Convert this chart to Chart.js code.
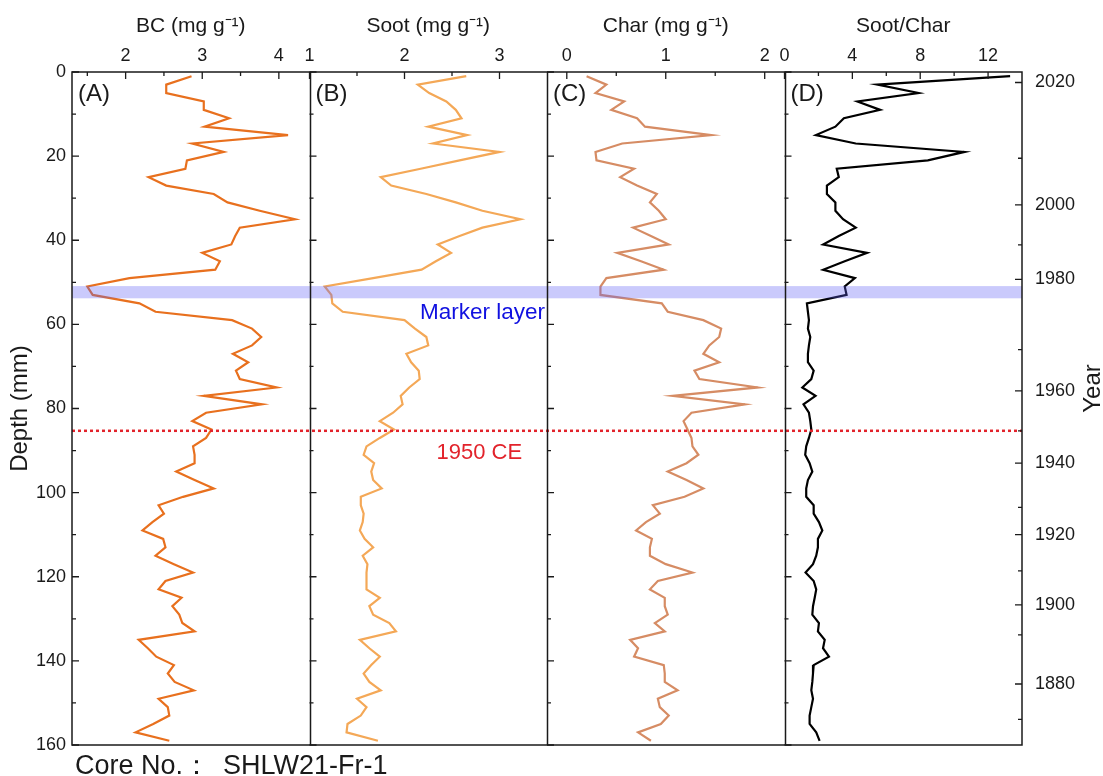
<!DOCTYPE html>
<html>
<head>
<meta charset="utf-8">
<script src="https://cdn.jsdelivr.net/npm/chart.js@4.4.1/dist/chart.umd.min.js"></script>
<style>
  html, body { margin: 0; padding: 0; background: #fff; }
  #wrap { width: 1103px; height: 776px; }
</style>
</head>
<body>
<div id="wrap"><canvas id="core-chart" width="1103" height="776"></canvas></div>
<script>
// sample mid-depths (mm)
const depth = [1, 3, 5, 7, 9, 11, 13, 15, 17, 19, 21, 23, 25, 27, 29, 31, 33, 35, 37, 39,
  41, 43, 45, 47, 49, 51, 53, 55, 57, 59, 61, 63, 65, 67, 69, 71, 73, 75, 77, 79,
  81, 83, 85, 87, 89, 91, 93, 95, 97, 99, 101, 103, 105, 107, 109, 111, 113, 115, 117, 119,
  121, 123, 125, 127, 129, 131, 133, 135, 137, 139, 141, 143, 145, 147, 149, 151, 153, 155, 157, 159];

// mg/g
const bc = [2.86, 2.53, 2.53, 3.02, 3.02, 3.35, 3.03, 4.12, 2.87, 3.28,
  2.80, 2.78, 2.30, 2.53, 3.15, 3.33, 3.75, 4.21, 3.49, 3.43,
  3.38, 3.00, 3.23, 3.17, 2.05, 1.50, 1.57, 2.18, 2.39, 3.39,
  3.65, 3.77, 3.65, 3.40, 3.60, 3.44, 3.49, 3.97, 3.02, 3.78,
  3.05, 2.87, 3.12, 3.05, 2.88, 2.90, 2.90, 2.66, 2.90, 3.15,
  2.75, 2.43, 2.50, 2.35, 2.22, 2.49, 2.52, 2.39, 2.63, 2.88,
  2.52, 2.43, 2.73, 2.61, 2.70, 2.74, 2.90, 2.17, 2.29, 2.40,
  2.63, 2.55, 2.64, 2.89, 2.43, 2.55, 2.57, 2.36, 2.13, 2.57];

const soot = [2.65, 2.14, 2.26, 2.44, 2.54, 2.60, 2.25, 2.66, 2.30, 3.00,
  2.58, 2.17, 1.75, 1.86, 2.23, 2.54, 2.82, 3.22, 2.82, 2.58,
  2.35, 2.49, 2.33, 2.18, 1.67, 1.16, 1.23, 1.24, 1.35, 2.00,
  2.11, 2.23, 2.25, 2.02, 2.07, 2.15, 2.16, 2.05, 1.96, 1.98,
  1.88, 1.74, 1.89, 1.74, 1.60, 1.57, 1.68, 1.65, 1.67, 1.76,
  1.54, 1.54, 1.57, 1.56, 1.53, 1.58, 1.67, 1.56, 1.61, 1.60,
  1.60, 1.60, 1.74, 1.63, 1.67, 1.84, 1.91, 1.53, 1.63, 1.74,
  1.65, 1.57, 1.63, 1.75, 1.50, 1.60, 1.54, 1.40, 1.39, 1.72];

const charc = [0.20, 0.40, 0.29, 0.58, 0.45, 0.71, 0.79, 1.46, 0.56, 0.29,
  0.30, 0.68, 0.54, 0.71, 0.91, 0.84, 0.93, 1.00, 0.67, 0.85,
  1.03, 0.51, 0.75, 0.98, 0.40, 0.34, 0.34, 0.96, 1.02, 1.38,
  1.56, 1.54, 1.44, 1.38, 1.54, 1.29, 1.34, 1.93, 1.07, 1.80,
  1.26, 1.18, 1.22, 1.26, 1.27, 1.33, 1.21, 1.02, 1.21, 1.38,
  1.19, 0.87, 0.94, 0.80, 0.70, 0.86, 0.84, 0.84, 1.00, 1.27,
  0.92, 0.84, 0.99, 0.99, 1.02, 0.89, 0.99, 0.64, 0.72, 0.68,
  0.98, 0.99, 0.99, 1.12, 0.92, 0.94, 1.03, 0.95, 0.72, 0.85];

const sootChar = [13.3, 5.47, 7.9, 4.3, 5.64, 3.5, 3.0, 1.85, 4.2, 10.6,
  8.45, 3.08, 3.2, 2.5, 2.5, 3.0, 3.0, 3.45, 4.2, 3.2,
  2.28, 4.87, 3.55, 2.28, 4.15, 3.55, 3.66, 1.32, 1.38, 1.44,
  1.38, 1.52, 1.44, 1.38, 1.38, 1.72, 1.58, 1.05, 1.83, 1.12,
  1.44, 1.52, 1.58, 1.44, 1.28, 1.22, 1.48, 1.64, 1.38, 1.28,
  1.28, 1.72, 1.72, 2.03, 2.23, 1.97, 1.97, 1.87, 1.68, 1.24,
  1.72, 1.87, 1.78, 1.68, 1.64, 2.03, 1.97, 2.37, 2.27, 2.62,
  1.72, 1.68, 1.64, 1.58, 1.68, 1.58, 1.48, 1.48, 1.87, 2.07];

// axis ticks
const depthTicks = [0, 20, 40, 60, 80, 100, 120, 140, 160];
const depthMinor = [10, 30, 50, 70, 90, 110, 130, 150];
const bcTicks = [2, 3, 4], bcMinor = [1.5, 2.5, 3.5];
const sootTicks = [1, 2, 3], sootMinor = [1.5, 2.5];
const charTicks = [0, 1, 2], charMinor = [0.5, 1.5];
const ratioTicks = [0, 4, 8, 12], ratioMinor = [2, 6, 10];

// age model: calendar year -> depth (mm)
const yearLabels = [2020, 2000, 1980, 1960, 1940, 1920, 1900, 1880];
const yearDepth = [2.5, 31.6, 49.3, 75.8, 93.0, 110.0, 126.7, 145.5];
const yearMinorDepth = [20.5, 41.1, 66.0, 85.3, 103.5, 118.6, 133.8, 153.9];

const markerLayer = [50.9, 53.8];
const ce1950Depth = 85.3;

const FONT = '"Liberation Sans", Arial, Helvetica, sans-serif';
const INK = '#1a1a1a';

function panelAxis(title, min, max, ticks, weight) {
  return {
    type: 'linear', axis: 'x', position: 'top',
    stack: 'panels', stackWeight: 1, weight: weight,
    min: min, max: max,
    afterBuildTicks: s => { s.ticks = ticks.map(v => ({ value: v })); },
    afterFit: s => { s.height = 72; },
    grid: { display: false, drawTicks: false },
    border: { display: false },
    ticks: { font: { family: FONT, size: 18 }, color: INK, padding: 5, autoSkip: false, maxRotation: 0 },
    title: { display: true, text: title, font: { family: FONT, size: 21 }, color: INK, padding: { top: 14, bottom: 0 } }
  };
}

const panels = [
  { id: 'xA', label: '(A)', minor: bcMinor },
  { id: 'xB', label: '(B)', minor: sootMinor },
  { id: 'xC', label: '(C)', minor: charMinor },
  { id: 'xD', label: '(D)', minor: ratioMinor }
];

const frame = {
  id: 'frame',
  afterDatasetsDraw(chart) {
    const { ctx, chartArea: a, scales } = chart;
    const y = scales.y;
    ctx.save();
    // marker layer band
    const y0 = y.getPixelForValue(markerLayer[0]);
    const y1 = y.getPixelForValue(markerLayer[1]);
    ctx.fillStyle = 'rgba(95, 95, 245, 0.33)';
    ctx.fillRect(a.left, y0, a.right - a.left, y1 - y0);
    // 1950 CE horizon
    const y50 = y.getPixelForValue(ce1950Depth);
    ctx.strokeStyle = '#e2232b';
    ctx.lineWidth = 2.5;
    ctx.setLineDash([3, 3]);
    ctx.beginPath();
    ctx.moveTo(a.left, y50);
    ctx.lineTo(a.right, y50);
    ctx.stroke();
    ctx.restore();
  },
  afterDraw(chart) {
    const { ctx, chartArea: a, scales } = chart;
    const y = scales.y;
    ctx.save();

    // outer box and panel dividers
    ctx.strokeStyle = INK;
    ctx.lineWidth = 1.5;
    ctx.strokeRect(a.left, a.top, a.right - a.left, a.bottom - a.top);
    ctx.beginPath();
    panels.slice(1).forEach(p => {
      const x = Math.round(scales[p.id].left) + 0.5;
      ctx.moveTo(x, a.top);
      ctx.lineTo(x, a.bottom);
    });
    ctx.stroke();

    // inward tick marks
    ctx.lineWidth = 1.3;
    ctx.beginPath();
    const mark = (x1, y1, x2, y2) => { ctx.moveTo(x1, y1); ctx.lineTo(x2, y2); };
    panels.forEach(p => {
      const s = scales[p.id];
      s.ticks.forEach(t => { const x = s.getPixelForValue(t.value); mark(x, a.top, x, a.top + 7); });
      p.minor.forEach(v => { const x = s.getPixelForValue(v); mark(x, a.top, x, a.top + 4); });
      depthTicks.forEach(v => { const py = y.getPixelForValue(v); mark(s.left, py, s.left + 7, py); });
      depthMinor.forEach(v => { const py = y.getPixelForValue(v); mark(s.left, py, s.left + 4, py); });
    });
    const yr = scales.year;
    yr.ticks.forEach(t => { const py = yr.getPixelForValue(t.value); mark(a.right, py, a.right - 7, py); });
    yearMinorDepth.forEach(v => { const py = yr.getPixelForValue(v); mark(a.right, py, a.right - 4, py); });
    ctx.stroke();

    // panel letters
    ctx.fillStyle = INK;
    ctx.font = '24px ' + FONT;
    ctx.textBaseline = 'alphabetic';
    ctx.textAlign = 'left';
    panels.forEach(p => ctx.fillText(p.label, scales[p.id].left + 6, a.top + 29));

    // annotations
    const xB = scales.xB, xC = scales.xC;
    ctx.font = '22.5px ' + FONT;
    ctx.fillStyle = '#1010e0';
    ctx.textAlign = 'right';
    ctx.fillText('Marker layer', xC.left - 2, y.getPixelForValue(markerLayer[1]) + 21);
    ctx.font = '22px ' + FONT;
    ctx.fillStyle = '#e2232b';
    ctx.textAlign = 'left';
    ctx.fillText('1950 CE', xB.left + 127, y.getPixelForValue(ce1950Depth) + 28);

    // right-hand age axis title
    ctx.fillStyle = INK;
    ctx.font = '24px ' + FONT;
    ctx.textAlign = 'center';
    ctx.textBaseline = 'middle';
    ctx.translate(a.right + 71, (a.top + a.bottom) / 2 - 20);
    ctx.rotate(-Math.PI / 2);
    ctx.fillText('Year', 0, 0);
    ctx.restore();

    // core id
    ctx.save();
    ctx.fillStyle = INK;
    ctx.font = '27px ' + FONT;
    ctx.textBaseline = 'alphabetic';
    ctx.fillText('Core No.：', 75, 774);
    ctx.fillText('SHLW21-Fr-1', 223, 774);
    ctx.restore();
  }
};

const line = (vals, axis, color) => ({
  data: vals.map((v, i) => ({ x: v, y: depth[i] })),
  xAxisID: axis, yAxisID: 'y',
  showLine: true, pointRadius: 0, borderColor: color, borderWidth: 2.2, tension: 0
});

new Chart(document.getElementById('core-chart'), {
  type: 'scatter',
  data: {
    datasets: [
      line(bc, 'xA', '#e8701e'),
      line(soot, 'xB', '#f4a857'),
      line(charc, 'xC', '#d68c64'),
      line(sootChar, 'xD', '#000000')
    ]
  },
  options: {
    responsive: false,
    animation: false,
    events: [],
    layout: { padding: { left: 0, right: 0, top: 0, bottom: 31 } },
    plugins: { legend: { display: false }, tooltip: { enabled: false } },
    scales: {
      xA: panelAxis('BC (mg g⁻¹)', 1.3, 4.4, bcTicks, 4),
      xB: panelAxis('Soot (mg g⁻¹)', 1, 3.5, sootTicks, 3),
      xC: panelAxis('Char (mg g⁻¹)', -0.2, 2.2, charTicks, 2),
      xD: panelAxis('Soot/Char', 0, 14, ratioTicks, 1),
      y: {
        type: 'linear', axis: 'y', position: 'left', min: 0, max: 160, reverse: true,
        afterBuildTicks: s => { s.ticks = depthTicks.map(v => ({ value: v })); },
        afterFit: s => { s.width = 72; },
        grid: { display: false, drawTicks: false },
        border: { display: false },
        ticks: { font: { family: FONT, size: 18 }, color: INK, padding: 6 },
        title: { display: true, text: 'Depth (mm)', font: { family: FONT, size: 24 }, color: INK, padding: { top: 6, bottom: 0 } }
      },
      year: {
        type: 'linear', axis: 'y', position: 'right', min: 0, max: 160, reverse: true,
        afterBuildTicks: s => { s.ticks = yearDepth.map(v => ({ value: v })); },
        afterFit: s => { s.width = 81; },
        grid: { display: false, drawTicks: false },
        border: { display: false },
        ticks: { font: { family: FONT, size: 18 }, color: INK, padding: 13, autoSkip: false,
          callback: (v, i) => yearLabels[i] }
      }
    }
  },
  plugins: [frame]
});
</script>
</body>
</html>
